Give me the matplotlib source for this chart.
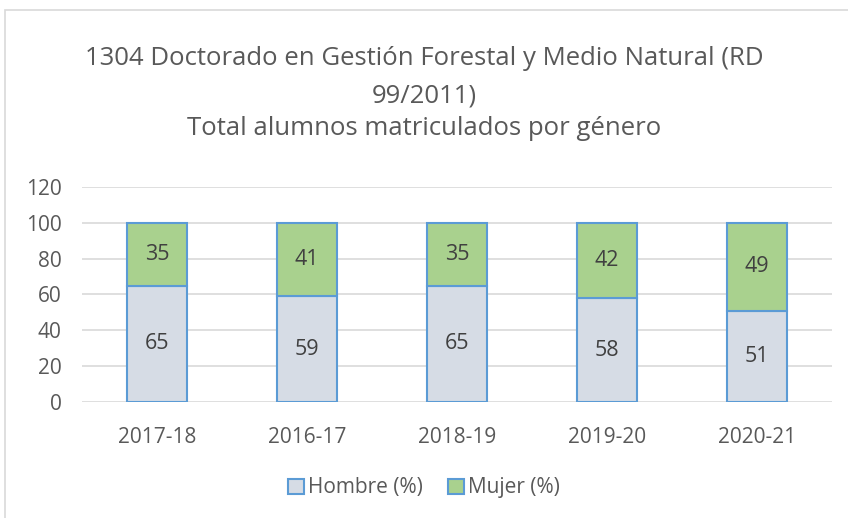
import matplotlib.pyplot as plt
import matplotlib.patches as mpatches
import numpy as np

plt.rcParams['font.family'] = ['Open Sans', 'DejaVu Sans']

# data
cursos = ['2017-18', '2016-17', '2018-19', '2019-20', '2020-21']
hombre = [65, 59, 65, 58, 51]
mujer = [35, 41, 35, 42, 49]
yticks = [0, 20, 40, 60, 80, 100, 120]

fig = plt.figure(figsize=(8.48, 5.18), dpi=100)
ax = fig.add_axes([0.097, 0.224, 0.884, 0.415])

# outer chart border
fig.patches.append(mpatches.Rectangle((0.006, -0.02), 1.2, 1.0, transform=fig.transFigure,
                                      fill=False, edgecolor='#D9D9D9', linewidth=1.2))

x = np.arange(len(cursos))
edge = '#5B9BD5'
b1 = ax.bar(x, hombre, width=0.4, color='#D6DCE5', edgecolor=edge, linewidth=1.5,
            label='Hombre (%)', zorder=3)
b2 = ax.bar(x, mujer, width=0.4, bottom=hombre, color='#A9D18E', edgecolor=edge,
            linewidth=1.5, label='Mujer (%)', zorder=3)

for i in range(len(cursos)):
    ax.text(x[i], hombre[i] / 2, str(hombre[i]), ha='center', va='center',
            fontsize=15.5, color='#404040', zorder=4)
    ax.text(x[i], hombre[i] + mujer[i] / 2, str(mujer[i]), ha='center', va='center',
            fontsize=15.5, color='#404040', zorder=4)

ax.set_xlim(-0.5, len(cursos) - 0.5)
ax.set_ylim(0, 120)
ax.set_yticks(yticks)
ax.set_xticks(x)
ax.set_xticklabels(cursos)
ax.tick_params(length=0, labelsize=15, colors='#595959')
ax.tick_params(axis='x', pad=18)
ax.tick_params(axis='y', pad=15)
ax.yaxis.grid(True, color='#D9D9D9', linewidth=1.2, zorder=0)
for s in ax.spines.values():
    s.set_visible(False)

tkw = dict(ha='center', va='center', fontsize=18.5, color='#595959')
fig.text(0.5, 0.887, '1304 Doctorado en Gestión Forestal y Medio Natural (RD', **tkw)
fig.text(0.5, 0.815, '99/2011)', **tkw)
fig.text(0.5, 0.752, 'Total alumnos matriculados por género', **tkw)

fig.legend(handles=[b1, b2], loc='center', bbox_to_anchor=(0.5, 0.058), ncol=2,
           frameon=False, fontsize=15, labelcolor='#595959', handlelength=0.75,
           handleheight=0.75, handletextpad=0.2, columnspacing=1.2)

fig.savefig('out.png', dpi=100)
